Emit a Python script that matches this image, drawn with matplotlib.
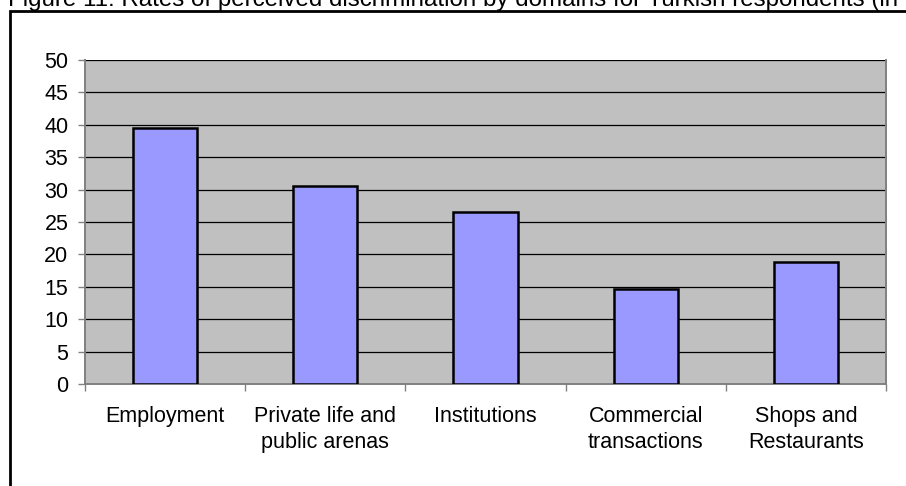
import matplotlib
matplotlib.use("Agg")
import matplotlib.pyplot as plt
from matplotlib.patches import Rectangle

categories = ["Employment", "Private life and\npublic arenas", "Institutions",
              "Commercial\ntransactions", "Shops and\nRestaurants"]
values = [39.5, 30.5, 26.6, 14.7, 18.9]
yticks = [0, 5, 10, 15, 20, 25, 30, 35, 40, 45, 50]
title = "Figure 11: Rates of perceived discrimination by domains for Turkish respondents (in"

plt.rcParams["font.family"] = ["Liberation Sans", "DejaVu Sans"]

W, H = 906, 486
fig = plt.figure(figsize=(W / 100, H / 100), dpi=100)
fig.patch.set_facecolor("white")

# outer chart frame (runs off the right and bottom edges)
frame = Rectangle((10 / W, -0.1), 1.2, 1 - 11 / H + 0.1, transform=fig.transFigure,
                  fill=False, edgecolor="black", linewidth=2.0, clip_on=False)
fig.patches.append(frame)

fig.text(8 / W, 1 - 6 / H, title, fontsize=17.4, ha="left", va="baseline", color="black")

ax = fig.add_axes([85 / W, (H - 384) / H, (886 - 85) / W, (384 - 60) / H])
ax.set_facecolor("#C0C0C0")

x = list(range(len(categories)))
ax.bar(x, values, width=0.4, color="#9999FF", edgecolor="black", linewidth=1.8, zorder=3)

ax.set_xlim(-0.5, len(categories) - 0.5)
ax.set_ylim(0, 50)
ax.set_yticks(yticks)
ax.set_yticklabels([str(v) for v in yticks], fontsize=15.5)
for v in yticks[1:]:
    ax.axhline(v, color="black", linewidth=0.9, zorder=1)

ax.set_xticks(x)
ax.set_xticklabels(categories, fontsize=15.5, linespacing=1.32)
ax.tick_params(axis="x", which="major", length=0, pad=15.5)
ax.set_xticks([i - 0.5 for i in range(len(categories) + 1)], minor=True)
ax.tick_params(axis="x", which="minor", length=5, color="#808080", width=1)
ax.tick_params(axis="y", length=5, color="#808080", width=1, pad=7)

for side in ["top", "right", "left", "bottom"]:
    ax.spines[side].set_color("#808080")
    ax.spines[side].set_linewidth(1.4)
ax.spines["top"].set_visible(False)

fig.savefig("out.png", dpi=100)
